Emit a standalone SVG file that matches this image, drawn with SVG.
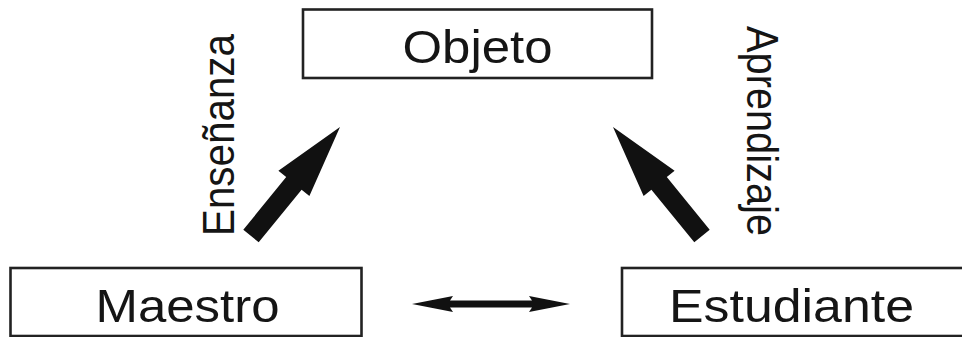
<svg xmlns="http://www.w3.org/2000/svg" width="962" height="337" viewBox="0 0 962 337">
<style>
.box{fill:#fff;stroke:#222;stroke-width:2.6}
.lbl{font-family:"Liberation Sans",Arial,sans-serif;font-size:46px;fill:#151515}
.vlbl{font-family:"Liberation Sans",Arial,sans-serif;font-size:40px;fill:#151515}
.arr{fill:#111;stroke:none}
</style>
<rect width="962" height="337" fill="#fff"/>
<g id="objeto">
<rect class="box" x="303" y="9.5" width="349" height="68.5"/>
<text class="lbl" x="477.5" y="63" text-anchor="middle" textLength="150" lengthAdjust="spacingAndGlyphs">Objeto</text>
</g>
<g id="maestro">
<rect class="box" x="10.5" y="268" width="351" height="68"/>
<text class="lbl" x="187.5" y="322" text-anchor="middle" textLength="184" lengthAdjust="spacingAndGlyphs">Maestro</text>
</g>
<g id="estudiante">
<rect class="box" x="622" y="268" width="345" height="68"/>
<text class="lbl" x="791.5" y="322" text-anchor="middle" textLength="245" lengthAdjust="spacingAndGlyphs">Estudiante</text>
</g>
<g id="connectors">
<polygon class="arr" points="243.3,229.7 286.2,177.1 278.4,170.8 340,127 309.4,196 301.6,189.7 258.7,242.3"/>
<polygon class="arr" points="709.7,229.7 666.8,177.1 674.6,170.8 613,127 643.6,196 651.4,189.7 694.3,242.3"/>
<polygon class="arr" points="412,304 453,296 450,300.5 532,300.5 529,296 570,304 529,312 532,307.5 450,307.5 453,312"/>
<text class="vlbl" transform="translate(234,236) scale(1.1,1) rotate(-90)" textLength="202" lengthAdjust="spacingAndGlyphs">Enseñanza</text>
<text class="vlbl" transform="translate(747,26) scale(1.1,1) rotate(90)" textLength="210" lengthAdjust="spacingAndGlyphs">Aprendizaje</text>
</g>
</svg>
